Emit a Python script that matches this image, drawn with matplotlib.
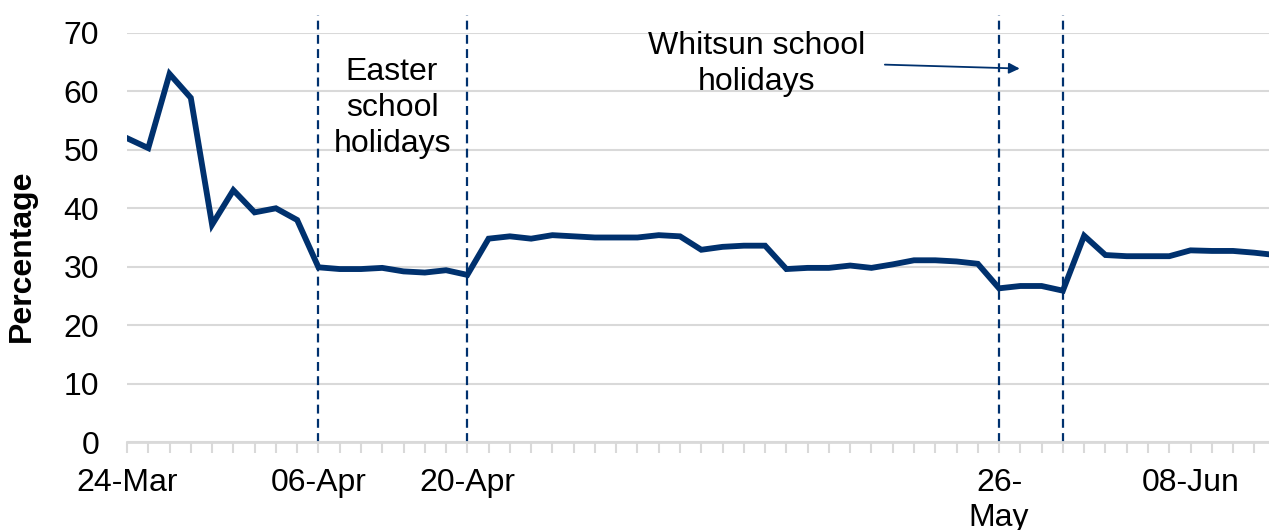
import matplotlib.pyplot as plt
import matplotlib.ticker as mticker

plt.rcParams['font.family'] = ['Liberation Sans', 'DejaVu Sans']

dates = ['24-Mar', '25-Mar', '26-Mar', '27-Mar', '30-Mar', '31-Mar', '01-Apr', '02-Apr', '03-Apr',
         '06-Apr', '07-Apr', '08-Apr', '09-Apr', '14-Apr', '15-Apr', '16-Apr',
         '20-Apr', '21-Apr', '22-Apr', '23-Apr', '24-Apr', '27-Apr', '28-Apr', '29-Apr', '30-Apr', '01-May',
         '04-May', '05-May', '06-May', '07-May', '08-May', '11-May', '12-May', '13-May', '14-May', '15-May',
         '18-May', '19-May', '20-May', '21-May', '22-May', '26-May', '27-May', '28-May', '29-May',
         '01-Jun', '02-Jun', '03-Jun', '04-Jun', '05-Jun', '08-Jun', '09-Jun', '10-Jun', '11-Jun', '12-Jun']
values = [52.0, 50.3, 63.0, 58.9, 37.2, 43.1, 39.3, 40.0, 38.0,
          29.9, 29.6, 29.6, 29.8, 29.2, 29.0, 29.4,
          28.6, 34.8, 35.2, 34.8, 35.4, 35.2, 35.0, 35.0, 35.0, 35.4,
          35.2, 32.9, 33.4, 33.6, 33.6, 29.6, 29.8, 29.8, 30.2, 29.8,
          30.4, 31.1, 31.1, 30.9, 30.5, 26.3, 26.7, 26.7, 25.9,
          35.3, 32.0, 31.8, 31.8, 31.8, 32.8, 32.7, 32.7, 32.4, 32.0]
tick_labels = {'24-Mar': '24-Mar', '06-Apr': '06-Apr', '20-Apr': '20-Apr',
               '26-May': '26-\nMay', '08-Jun': '08-Jun'}
holiday_lines = ['06-Apr', '20-Apr', '26-May', '29-May']

navy = '#00316e'
grey = '#d9d9d9'

fig = plt.figure(figsize=(12.69, 5.30), dpi=100)
ax = fig.add_axes([127 / 1269, 1 - 442 / 530, 1 - 127 / 1269, (442 - 33) / 530])

x = list(range(len(dates)))
ax.plot(x, values, color=navy, lw=4.2, solid_joinstyle='miter', zorder=3)

for d in holiday_lines:
    ax.vlines(dates.index(d), 0, 73, colors=navy, linestyles=(0, (4, 2.4)), lw=1.6,
              clip_on=False, zorder=2)

ax.set_xlim(0, (1269 - 127) / 21.27)
ax.set_ylim(0, 70)
ax.set_yticks(range(0, 71, 10))
ax.grid(axis='y', color=grey, lw=1.5)
ax.set_axisbelow(True)

major = [dates.index(d) for d in tick_labels]
ax.set_xticks(major)
ax.set_xticklabels(list(tick_labels.values()), fontsize=23, linespacing=1.2, va='top')
ax.xaxis.set_minor_locator(mticker.FixedLocator(x))
ax.tick_params(axis='x', which='both', length=8, width=1.5, color=grey, pad=11)
ax.tick_params(axis='y', length=0, pad=20, labelsize=23)

for s in ['top', 'right', 'left']:
    ax.spines[s].set_visible(False)
ax.spines['bottom'].set_color(grey)
ax.spines['bottom'].set_linewidth(2)

ax.text(12.46, 57.2, 'Easter\nschool\nholidays', ha='center', va='center', fontsize=23,
        linespacing=1.27)
ax.text(29.6, 64.7, 'Whitsun school\nholidays', ha='center', va='center', fontsize=23,
        linespacing=1.27)
ax.annotate('', xy=(42.1, 63.9), xytext=(35.5, 64.6),
            arrowprops=dict(arrowstyle='-|>', color=navy, lw=1.3, mutation_scale=16))

fig.text(22 / 1269, 1 - 256 / 530, 'Percentage', rotation=90, ha='center', va='center',
         fontsize=23, fontweight='bold')

fig.savefig('out.png', dpi=100)
